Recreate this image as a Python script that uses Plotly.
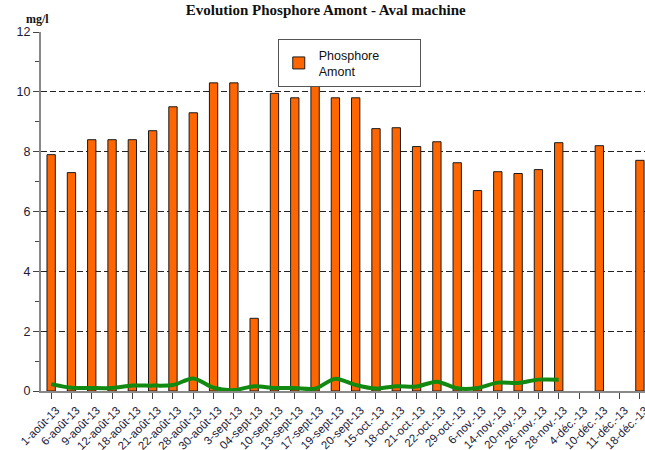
import plotly.graph_objects as go

categories = ["1-août-13", "6-août-13", "9-août-13", "12-août-13", "18-août-13", "21-août-13",
              "22-août-13", "28-août-13", "30-août-13", "3-sept-13", "04-sept-13", "10-sept-13",
              "13-sept-13", "17-sept-13", "19-sept-13", "20-sept-13", "15-oct.-13", "18-oct.-13",
              "21-oct.-13", "22-oct.-13", "29-oct.-13", "6-nov.-13", "14-nov.-13", "20-nov.-13",
              "26-nov.-13", "28-nov.-13", "4-déc.-13", "10-déc.-13", "11-déc.-13", "18-déc.-13"]

amont = [7.9, 7.3, 8.4, 8.4, 8.4, 8.7, 9.5, 9.3, 10.3, 10.3, 2.43, 9.95, 9.8, 10.4, 9.8, 9.8,
         8.77, 8.8, 8.17, 8.33, 7.63, 6.7, 7.33, 7.27, 7.4, 8.3, None, 8.2, None, 7.71]

aval = [0.23, 0.11, 0.1, 0.1, 0.18, 0.18, 0.2, 0.42, 0.11, 0.03, 0.16, 0.1, 0.1, 0.08, 0.41,
        0.2, 0.08, 0.16, 0.15, 0.31, 0.09, 0.1, 0.28, 0.27, 0.38, 0.38, None, None, None, None]

idx = list(range(len(categories)))

fig = go.Figure()
fig.add_trace(go.Bar(
    x=idx, y=amont, name="Phosphore" + "&nbsp;" * 10 + "<br>Amont",
    marker=dict(color="#FF6600", line=dict(color="#1a1a1a", width=1)),
    width=0.41,
))
fig.add_trace(go.Scatter(
    x=idx, y=aval, mode="lines", name="Phosphore Aval",
    line=dict(color="#128a12", width=4, shape="spline", smoothing=0.8),
    showlegend=False, connectgaps=False,
))

fig.update_layout(
    width=645, height=450,
    margin=dict(l=41, r=0, t=32, b=59),
    paper_bgcolor="white", plot_bgcolor="white",
    title=dict(text="<b>Evolution Phosphore Amont - Aval machine</b>",
               font=dict(family="Liberation Serif", size=15, color="#111"),
               x=0.505, xanchor="center", y=0.99, yanchor="top"),
    legend=dict(x=0.392, y=0.98, xanchor="left", yanchor="top",
                bordercolor="#555", borderwidth=1, bgcolor="white", itemwidth=30,
                font=dict(family="Liberation Sans", size=12.5, color="#111")),
    bargap=0.59,
    annotations=[dict(text="<b>mg/l</b>", x=0, y=12, xref="paper", yref="y",
                      xanchor="center", yanchor="bottom", xshift=-4, yshift=4, showarrow=False,
                      font=dict(family="Liberation Serif", size=12, color="#111"))],
)

fig.update_xaxes(
    tickmode="array", tickvals=idx, ticktext=categories,
    range=[-0.5, 29.25], tickangle=-45,
    tickson="boundaries", ticks="outside", ticklen=6, tickcolor="#444",
    showline=True, linecolor="#888", linewidth=2,
    showgrid=False, zeroline=False, automargin=False,
    ticklabelshift=5, ticklabeloverflow="allow",
    tickfont=dict(family="Liberation Sans", size=11.5, color="#1a1a3a"),
)
fig.update_yaxes(
    range=[0, 12], dtick=2, tick0=0,
    ticks="outside", ticklen=6, tickcolor="#444",
    minor=dict(dtick=1, ticks="outside", ticklen=4, tickcolor="#444", showgrid=False),
    showline=True, linecolor="#888", linewidth=2,
    showgrid=True, gridcolor="#222", griddash="6px,3px", gridwidth=1,
    zeroline=False, automargin=False,
    tickfont=dict(family="Liberation Sans", size=12.5, color="#1a1a3a"),
)

fig.write_html("out.html", config={"displayModeBar": False},
               post_script="document.body.style.margin='0';document.body.style.overflow='hidden';")
